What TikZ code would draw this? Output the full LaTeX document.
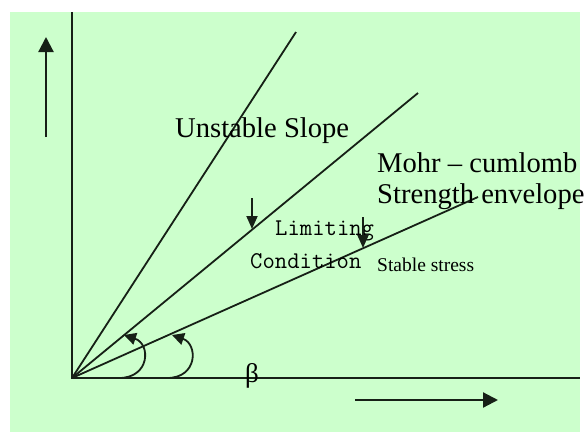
\documentclass[tikz,border=0pt]{standalone}
\usepackage{fontspec}
\setmainfont{Liberation Serif}
\usetikzlibrary{arrows.meta}
\definecolor{bg}{RGB}{204,255,204}
\definecolor{ink}{RGB}{22,32,22}
\tikzset{
  axisline/.style={draw=ink, line width=2.2pt},
  ray/.style={draw=ink, line width=1.8pt},
  bigarrow/.style={draw=ink, line width=2.2pt, -{Triangle[width=15pt,length=15pt]}},
  downarrow/.style={draw=ink, line width=1.8pt, -{Triangle[width=11pt,length=13pt]}},
  anglearrow/.style={draw=ink, line width=1.8pt, -{Triangle[width=12pt,length=12pt]}},
  lbl/.style={inner sep=0pt, anchor=base west, text=black},
}
\begin{document}
\begin{tikzpicture}[x=1pt,y=-1pt]
\useasboundingbox (0,0) rectangle (587,432);
\fill[bg] (10,12) rectangle (580,432);
% axes
\coordinate (O) at (72,378);
\coordinate (ytop) at (72,12);
\coordinate (xend) at (580,378);
\draw[axisline] (ytop) -- (O) -- (xend);
% rays
\coordinate (A) at (296,32);
\coordinate (B) at (418,93);
\coordinate (C) at (478,197);
\draw[ray] (O) -- (A);
\draw[ray] (O) -- (B);
\draw[ray] (O) -- (C);
% direction arrows
\coordinate (u1) at (46,137);
\coordinate (u2) at (46,37);
\draw[bigarrow] (u1) -- (u2);
\coordinate (r1) at (355,400);
\coordinate (r2) at (498,400);
\draw[bigarrow] (r1) -- (r2);
% labels
\node[lbl, font=\fontsize{28.6}{31}\selectfont] (us) at (175,137) {Unstable Slope};
\node[lbl, font=\fontsize{28.6}{31}\selectfont] (mc) at (377,172) {Mohr -- cumlomb};
\node[lbl, font=\fontsize{28.6}{31}\selectfont] (se) at (377,203) {Strength envelope};
\node[lbl, font=\ttfamily\fontsize{24}{26}\selectfont] (lim) at (275,235) {Limiting};
\node[lbl, font=\ttfamily\fontsize{24}{26}\selectfont] (cond) at (250,268) {Condition};
\node[lbl, font=\fontsize{19.5}{21}\selectfont] (ss) at (377,271) {Stable stress};
\node[inner sep=0pt, font=\fontsize{27}{29}\selectfont] (beta) at (252,376) {β};
% down arrows
\coordinate (d1s) at (252,198);
\coordinate (d1e) at (252,229);
\draw[downarrow] (d1s) -- (d1e);
\coordinate (d2s) at (363,217);
\coordinate (d2e) at (363,248);
\draw[downarrow] (d2s) -- (d2e);
% angle arrows
\coordinate (a1s) at (119,378);
\coordinate (a1e) at (124,335);
\draw[anglearrow] (a1s) .. controls (150,378) and (151,344) .. (a1e);
\coordinate (a2s) at (167,378);
\coordinate (a2e) at (172,335);
\draw[anglearrow] (a2s) .. controls (198,378) and (198,344) .. (a2e);
\end{tikzpicture}
\end{document}
